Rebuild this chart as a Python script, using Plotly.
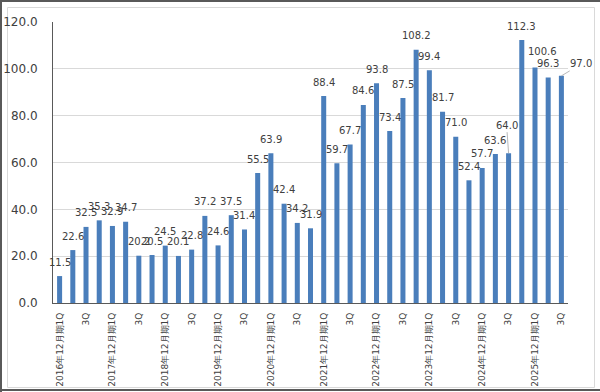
import plotly.graph_objects as go

years = [str(y) for y in range(2016, 2026)]
quarters = []
for y in years:
    for q in ["1Q", "2Q", "3Q", "4Q"]:
        quarters.append(f"{y}年12月期{q}")
quarters = quarters[:39]

values = [11.5, 22.6, 32.5, 35.3,
          32.9, 34.7, 20.2, 20.5,
          24.5, 20.1, 22.8, 37.2,
          24.6, 37.5, 31.4, 55.5,
          63.9, 42.4, 34.2, 31.9,
          88.4, 59.7, 67.7, 84.6,
          93.8, 73.4, 87.5, 108.2,
          99.4, 81.7, 71.0, 52.4,
          57.7, 63.6, 64.0, 112.3,
          100.6, 96.3, 97.0]

tick_text = []
for c in quarters:
    if c.endswith("1Q"):
        tick_text.append(c)
    elif c.endswith("3Q"):
        tick_text.append("3Q")
    else:
        tick_text.append("")

# label placement styling (pixel offsets of hand-placed labels)
label_offsets = {34: (-2, -28, True), 36: (8, -16, False), 38: (20, -12, True)}

W, H = 600, 392
L, R, T, B = 53, 32, 22, 89
pw, ph = W - L - R, H - T - B

def px(x):
    return (x - L) / pw

def py(y):
    return (H - B - y) / ph

TXT = "#404040"
FONT = "DejaVu Sans"

fig = go.Figure()
fig.add_trace(go.Bar(x=quarters, y=values, marker=dict(color="#4A7EBB", line=dict(width=0)),
                     hoverinfo="x+y"))

ann = []
for i, (c, v) in enumerate(zip(quarters, values)):
    if i in label_offsets:
        dx, dy, arrow = label_offsets[i]
        if arrow:
            ann.append(dict(x=c, y=v, text=f"{v:.1f}", showarrow=True, ax=dx, ay=dy,
                            arrowhead=0, arrowwidth=0.8, arrowcolor="#a6a6a6", standoff=0,
                            font=dict(family=FONT, size=10, color=TXT)))
        else:
            ann.append(dict(x=c, y=v, text=f"{v:.1f}", showarrow=False, xshift=dx, yshift=-dy,
                            yanchor="middle", font=dict(family=FONT, size=10, color=TXT)))
    else:
        ann.append(dict(x=c, y=v, text=f"{v:.1f}", showarrow=False, yshift=14,
                        yanchor="middle", font=dict(family=FONT, size=10, color=TXT)))

shapes = [
    dict(type="rect", xref="paper", yref="paper", x0=px(7.5), x1=px(594.5), y0=py(387.5), y1=py(7.5),
         line=dict(color="#d9d9d9", width=1), layer="below"),
    dict(type="line", xref="paper", yref="paper", x0=px(0), x1=px(600), y0=py(1), y1=py(1),
         line=dict(color="#595959", width=2)),
    dict(type="line", xref="paper", yref="paper", x0=px(1), x1=px(1), y0=py(0), y1=py(392),
         line=dict(color="#595959", width=2)),
    dict(type="line", xref="paper", yref="paper", x0=px(0), x1=px(600), y0=py(390), y1=py(390),
         line=dict(color="#595959", width=2)),
]

fig.update_layout(
    width=W, height=H,
    margin=dict(l=L, r=R, t=T, b=B, pad=0, autoexpand=False),
    paper_bgcolor="white", plot_bgcolor="white",
    bargap=0.62,
    showlegend=False,
    annotations=ann,
    shapes=shapes,
    font=dict(family=FONT, color=TXT),
)
fig.update_xaxes(
    type="category", tickmode="array", tickvals=quarters, ticktext=tick_text,
    range=[-0.5, len(quarters) - 0.5],
    tickangle=-90, tickfont=dict(family=FONT, size=9, color=TXT),
    showline=True, linecolor="#595959", linewidth=1, showgrid=False,
    ticks="", ticklabelstandoff=5, automargin=False,
)
fig.update_yaxes(
    range=[0, 120], dtick=20, tickformat=".1f",
    tickfont=dict(family=FONT, size=12, color=TXT),
    showgrid=True, gridcolor="#d9d9d9", gridwidth=1,
    showline=True, linecolor="#595959", linewidth=1,
    zeroline=False, ticks="", ticklabelstandoff=12, automargin=False,
)

fig.write_html("out.html", config={"displayModeBar": False},
               post_script="document.body.style.margin='0';document.body.style.overflow='hidden';")
